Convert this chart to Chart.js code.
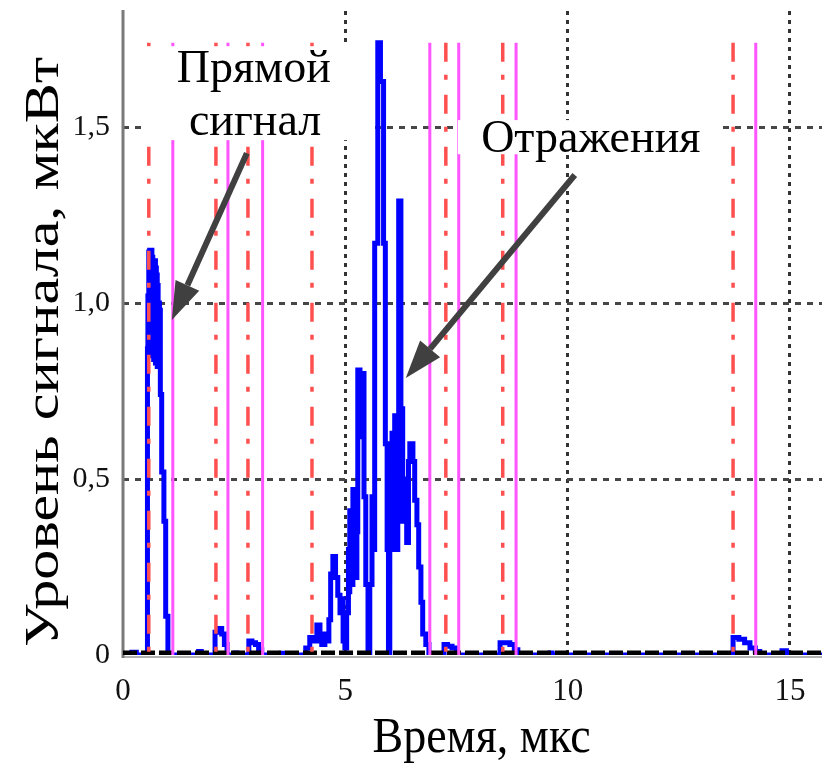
<!DOCTYPE html>
<html>
<head>
<meta charset="utf-8">
<script src="https://cdn.jsdelivr.net/npm/chart.js@4.4.1/dist/chart.umd.min.js"></script>
<style>
  html, body { margin: 0; padding: 0; background: #fff; }
</style>
</head>
<body>
<canvas id="signalChart" width="822" height="764"></canvas>
<script>
// время, мкс
const timeUs = [
  0.00, 0.20, 0.30, 0.51, 0.55, 0.56, 0.57, 0.58, 0.59, 0.60, 0.61, 0.62, 0.63, 0.64, 0.65, 0.66,
  0.67, 0.68, 0.69, 0.70, 0.71, 0.72, 0.73, 0.74, 0.75, 0.76, 0.77, 0.78, 0.79, 0.80, 0.82, 0.84,
  0.87, 0.92, 0.96, 1.01, 1.70, 1.76, 2.07, 2.12, 2.17, 2.22, 2.28, 2.34, 2.52, 2.56, 2.83, 2.90,
  2.98, 3.05, 3.12, 3.55, 3.60, 3.98, 4.11, 4.20, 4.29, 4.36, 4.43, 4.47, 4.54, 4.58, 4.63, 4.67,
  4.72, 4.78, 4.83, 4.88, 4.92, 4.95, 4.99, 5.03, 5.07, 5.09, 5.10, 5.12, 5.14, 5.16, 5.17, 5.19,
  5.21, 5.23, 5.26, 5.28, 5.33, 5.37, 5.42, 5.46, 5.51, 5.55, 5.60, 5.63, 5.66, 5.73, 5.79, 5.86,
  5.90, 5.94, 5.97, 6.00, 6.05, 6.09, 6.11, 6.15, 6.18, 6.20, 6.25, 6.29, 6.34, 6.38, 6.42, 6.45,
  6.52, 6.56, 6.61, 6.65, 6.70, 6.74, 6.81, 6.88, 7.22, 7.30, 7.40, 7.50, 8.48, 8.58, 8.70, 8.80,
  8.88, 9.60, 9.65, 13.72, 13.85, 13.98, 14.10, 14.22, 14.32, 14.82, 14.92, 15.72
];
// уровень сигнала, мкВт
const levelMw = [
  0, 0.008, 0, 0, 0.87, 1.02, 0.86, 1.145, 0.90, 1.15, 0.86, 1.14, 0.88, 1.15, 0.85, 1.13,
  0.86, 1.12, 0.84, 1.12, 0.85, 1.12, 0.83, 1.10, 0.84, 1.08, 0.82, 1.05, 0.85, 1.00, 0.98, 0.74,
  0.52, 0.38, 0.11, 0, 0.01, 0, 0.065, 0.07, 0.075, 0.06, 0.03, 0, 0.006, 0, 0.04, 0.035,
  0.03, 0.015, 0, 0.005, 0, 0, 0.02, 0.05, 0.04, 0.085, 0.06, 0.03, 0.06, 0.04, 0.10, 0.23,
  0.28, 0.22, 0.17, 0.12, 0.16, 0.04, 0.02, 0.12, 0.30, 0.18, 0.41, 0.22, 0.40, 0.20, 0.47, 0.25,
  0.43, 0.22, 0.35, 0.81, 0.62, 0.80, 0.45, 0.20, 0, 0.20, 0.45, 0.30, 1.17, 1.74, 1.63, 1.17,
  0.60, 0.30, 0, 0.30, 0.63, 0.35, 0.68, 0.30, 0.40, 1.29, 0.70, 0.38, 0.50, 0.32, 0.55, 0.60,
  0.55, 0.44, 0.37, 0.25, 0.15, 0.06, 0.03, 0, 0.03, 0.025, 0.02, 0, 0.035, 0.035, 0.03, 0.015,
  0, 0.006, 0, 0.05, 0.045, 0.035, 0.02, 0.01, 0, 0.012, 0, 0
];
// границы окон: начало (красные) и конец (розовые)
const windowStarts = [0.58, 2.09, 2.81, 4.25, 7.26, 8.54, 13.72];
const windowEnds = [1.12, 2.36, 3.14, 6.90, 7.55, 8.84, 14.23];
const windowTop = 1.74;

const xTicks = [0, 5, 10, 15];
const yTicks = [0, 0.5, 1.0, 1.5];
const yTickLabels = ["0", "0,5", "1,0", "1,5"];

const xTitle = "Время, мкс";
const yTitle = "Уровень сигнала, мкВт";

// подписи и стрелки (в единицах осей)
const notes = [
  { text: "Прямой", x: 2.94, y: 1.628 },
  { text: "сигнал", x: 2.97, y: 1.477 },
  { text: "Отражения", x: 10.52, y: 1.429 }
];
const noteBoxes = [
  { x0: 0.43, x1: 5.60, y0: 1.730, y1: 1.463 },
  { x0: 7.53, x1: 13.38, y0: 1.520, y1: 1.423 }
];
const arrows = [
  { x0: 2.785, y0: 1.426, x1: 1.098, y1: 0.952 },
  { x0: 10.16, y0: 1.364, x1: 6.36, y1: 0.787 }
];

const serif = "'Liberation Serif', 'Times New Roman', serif";

const vLines = ts => ts.flatMap(t => [{ x: t, y: windowTop }, { x: t, y: 0 }, { x: t, y: null }]);

const overlay = {
  id: "overlay",
  beforeDatasetsDraw(chart) {
    const { ctx, chartArea: a } = chart;
    ctx.save();
    ctx.strokeStyle = "#b0b0b0";
    ctx.lineWidth = 2;
    ctx.beginPath();
    ctx.moveTo(a.left, a.bottom + 2);
    ctx.lineTo(a.right, a.bottom + 2);
    ctx.stroke();
    ctx.strokeStyle = "#7a7a7a";
    ctx.lineWidth = 3;
    ctx.beginPath();
    ctx.moveTo(a.left, a.top - 1);
    ctx.lineTo(a.left, a.bottom + 3);
    ctx.stroke();
    ctx.restore();
  },
  afterDraw(chart) {
    const { ctx, chartArea: a, scales: { x, y } } = chart;
    const px = v => x.getPixelForValue(v);
    const py = v => y.getPixelForValue(v);
    ctx.save();

    ctx.fillStyle = "#fff";
    noteBoxes.forEach(b => {
      ctx.fillRect(px(b.x0), py(b.y0), px(b.x1) - px(b.x0), py(b.y1) - py(b.y0));
    });

    ctx.fillStyle = "#000";
    ctx.font = "46px " + serif;
    ctx.textAlign = "center";
    ctx.textBaseline = "alphabetic";
    notes.forEach(n => ctx.fillText(n.text, px(n.x), py(n.y)));

    // стрелки
    ctx.strokeStyle = "#404040";
    ctx.fillStyle = "#404040";
    ctx.lineWidth = 6;
    arrows.forEach(ar => {
      const x0 = px(ar.x0), y0 = py(ar.y0), x1 = px(ar.x1), y1 = py(ar.y1);
      const ang = Math.atan2(y1 - y0, x1 - x0);
      const head = 38, half = 13;
      const bx = x1 - head * Math.cos(ang), by = y1 - head * Math.sin(ang);
      ctx.beginPath();
      ctx.moveTo(x0, y0);
      ctx.lineTo(bx, by);
      ctx.stroke();
      ctx.beginPath();
      ctx.moveTo(x1, y1);
      ctx.lineTo(bx + half * Math.sin(ang), by - half * Math.cos(ang));
      ctx.lineTo(bx - half * Math.sin(ang), by + half * Math.cos(ang));
      ctx.closePath();
      ctx.fill();
    });

    // подписи осей
    ctx.fillStyle = "#000";
    ctx.font = "46px " + serif;
    ctx.save();
    ctx.translate((a.left + a.right) / 2 + 9, 752);
    ctx.scale(1, 1.12);
    ctx.textAlign = "center";
    ctx.fillText(xTitle, 0, 0);
    ctx.restore();

    ctx.save();
    ctx.font = "48px " + serif;
    const w = ctx.measureText(yTitle).width;
    ctx.translate(45, 352);
    ctx.rotate(-Math.PI / 2);
    ctx.scale(590 / w, 1);
    ctx.textAlign = "center";
    ctx.textBaseline = "middle";
    ctx.fillText(yTitle, 0, 0);
    ctx.restore();

    ctx.restore();
  }
};

new Chart(document.getElementById("signalChart").getContext("2d"), {
  type: "line",
  data: {
    datasets: [
      {
        label: "start",
        data: vLines(windowStarts),
        borderColor: "#ff5050",
        borderWidth: 3.5,
        borderDash: [19, 13, 5, 15],
        pointRadius: 0,
        spanGaps: false,
        order: 0
      },
      {
        label: "end",
        data: vLines(windowEnds),
        borderColor: "#ff55ff",
        borderWidth: 3,
        pointRadius: 0,
        spanGaps: false,
        order: 1
      },
      {
        label: "zero",
        data: [{ x: 0, y: 0 }, { x: 15.72, y: 0 }],
        borderColor: "#000",
        borderWidth: 9,
        borderDash: [14, 4],
        pointRadius: 0,
        order: 2
      },
      {
        label: "signal",
        data: timeUs.map((t, i) => ({ x: t, y: levelMw[i] })),
        borderColor: "#0000ff",
        borderWidth: 5,
        pointRadius: 0,
        stepped: true,
        order: 3
      }
    ]
  },
  options: {
    responsive: false,
    animation: false,
    devicePixelRatio: 1,
    layout: { padding: { top: 11, left: 0, right: 0, bottom: 0 } },
    plugins: { legend: { display: false }, tooltip: { enabled: false } },
    scales: {
      x: {
        type: "linear",
        min: 0,
        max: 15.72,
        afterFit: s => { s.height = 109; s.paddingLeft = 0; s.paddingRight = 0; },
        afterBuildTicks: s => { s.ticks = xTicks.map(v => ({ value: v })); },
        grid: {
          drawTicks: false,
          lineWidth: 3,
          color: c => (c.tick && c.tick.value === 0 ? "rgba(0,0,0,0)" : "#333")
        },
        border: { display: false, dash: [4, 5] },
        ticks: {
          padding: 18,
          color: "#111",
          font: { family: serif, size: 31 },
          maxRotation: 0,
          callback: v => String(v)
        }
      },
      y: {
        type: "linear",
        min: 0,
        max: 1.83,
        afterFit: s => { s.width = 123; s.paddingTop = 0; s.paddingBottom = 0; },
        afterBuildTicks: s => { s.ticks = yTicks.map(v => ({ value: v })); },
        grid: {
          drawTicks: false,
          lineWidth: 3,
          color: c => (c.tick && c.tick.value === 0 ? "rgba(0,0,0,0)" : "#474747")
        },
        border: { display: false, dash: [6, 6] },
        ticks: {
          padding: 13,
          color: "#111",
          font: { family: serif, size: 30 },
          callback: v => yTickLabels[yTicks.indexOf(v)]
        }
      }
    }
  },
  plugins: [overlay]
});
</script>
</body>
</html>
